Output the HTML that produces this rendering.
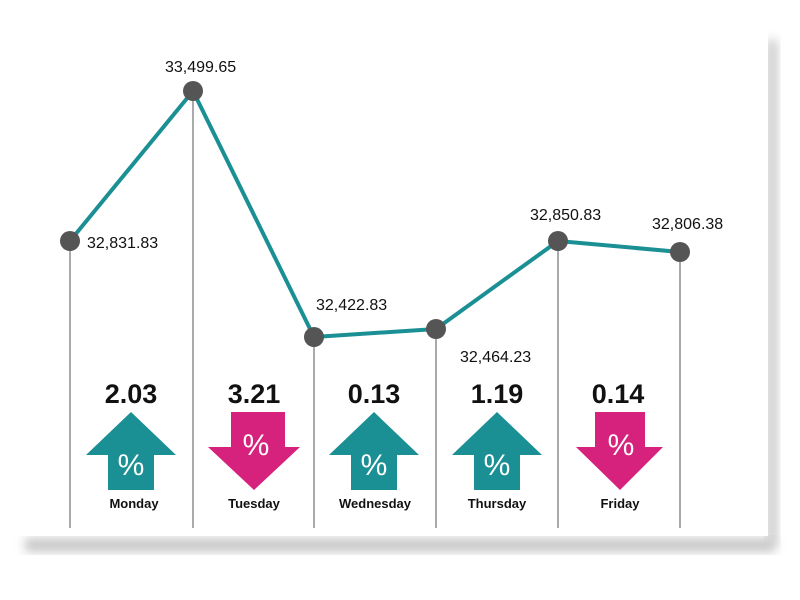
<!DOCTYPE html>
<html><head><meta charset="utf-8"><style>
html,body{margin:0;padding:0;background:#fff;width:800px;height:600px;overflow:hidden}
svg{display:block}
text{font-family:"Liberation Sans",Arial,sans-serif}
</style></head><body>
<svg width="800" height="600" viewBox="0 0 800 600">
<defs>
<filter id="b" x="-20%" y="-20%" width="140%" height="140%"><feGaussianBlur stdDeviation="5"/></filter>
</defs>
<rect x="25" y="538" width="750" height="14" fill="#c8c8c8" filter="url(#b)"/>
<rect x="766" y="40" width="12" height="505" fill="#cfcfcf" filter="url(#b)"/>
<rect x="10" y="30" width="758" height="506" fill="#fff"/>
<g stroke="#555" stroke-width="1">
<line x1="70" y1="241" x2="70" y2="528"/>
<line x1="193" y1="91" x2="193" y2="528"/>
<line x1="314" y1="337" x2="314" y2="528"/>
<line x1="436" y1="329" x2="436" y2="528"/>
<line x1="558" y1="241" x2="558" y2="528"/>
<line x1="680" y1="252" x2="680" y2="528"/>
</g>
<polyline points="70,241 193,91 314,337 436,329 558,241 680,252" fill="none" stroke="#1a8f94" stroke-width="4" stroke-linejoin="round"/>
<g fill="#555">
<circle cx="70" cy="241" r="10"/><circle cx="193" cy="91" r="10"/><circle cx="314" cy="337" r="10"/>
<circle cx="436" cy="329" r="10"/><circle cx="558" cy="241" r="10"/><circle cx="680" cy="252" r="10"/>
</g>
<g font-size="16" fill="#111">
<text x="87" y="248">32,831.83</text>
<text x="165" y="72">33,499.65</text>
<text x="316" y="310">32,422.83</text>
<text x="460" y="362">32,464.23</text>
<text x="530" y="220">32,850.83</text>
<text x="652" y="229">32,806.38</text>
</g>
<g font-size="27" font-weight="bold" fill="#111" text-anchor="middle">
<text x="131" y="403">2.03</text><text x="254" y="403">3.21</text><text x="374" y="403">0.13</text>
<text x="497" y="403">1.19</text><text x="618" y="403">0.14</text>
</g>
<g fill="#1a8f94">
<polygon points="131,412 176,455 154,455 154,490 108,490 108,455 86,455"/>
<polygon points="374,412 419,455 397,455 397,490 351,490 351,455 329,455"/>
<polygon points="497,412 542,455 520,455 520,490 474,490 474,455 452,455"/>
</g>
<g fill="#d6227d">
<polygon points="231,412 285,412 285,447 300,447 254,490 208,447 231,447"/>
<polygon points="595,412 645,412 645,447 663,447 620,490 576,447 595,447"/>
</g>
<g font-size="30" fill="#fff" text-anchor="middle">
<text x="131" y="475">%</text><text x="256" y="455">%</text><text x="374" y="475">%</text>
<text x="497" y="475">%</text><text x="621" y="455">%</text>
</g>
<g font-size="13" font-weight="bold" fill="#111" text-anchor="middle">
<text x="134" y="508">Monday</text><text x="254" y="508">Tuesday</text><text x="375" y="508">Wednesday</text>
<text x="497" y="508">Thursday</text><text x="620" y="508">Friday</text>
</g>
</svg>
</body></html>
